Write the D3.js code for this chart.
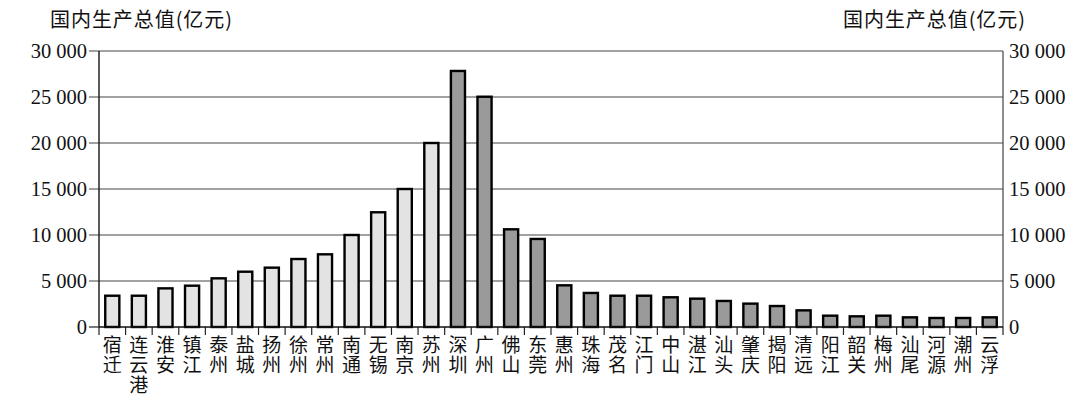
<!DOCTYPE html>
<html><head><meta charset="utf-8">
<script src="https://cdn.jsdelivr.net/npm/d3@7"></script>
<style>
body{margin:0;background:#fff;}
svg{display:block;}
</style></head>
<body>
<svg id="c" width="1080" height="404"></svg>
<script>
const cities = ["宿迁","连云港","淮安","镇江","泰州","盐城","扬州","徐州","常州","南通","无锡","南京","苏州",
"深圳","广州","佛山","东莞","惠州","珠海","茂名","江门","中山","湛江","汕头","肇庆","揭阳","清远","阳江","韶关","梅州","汕尾","河源","潮州","云浮"];
const gdp = [3400,3400,4200,4490,5290,6010,6450,7390,7900,10000,12470,15000,20000,
27830,25030,10620,9570,4530,3700,3400,3400,3230,3080,2830,2540,2280,1810,1230,1160,1230,1050,980,980,1050];
const province = ["江苏","江苏","江苏","江苏","江苏","江苏","江苏","江苏","江苏","江苏","江苏","江苏","江苏",
"广东","广东","广东","广东","广东","广东","广东","广东","广东","广东","广东","广东","广东","广东","广东","广东","广东","广东","广东","广东","广东"];
const yTicks = [0,5000,10000,15000,20000,25000,30000];
const yTitle = "国内生产总值(亿元)";

const fill = {"江苏":"#e3e3e3","广东":"#9a9a9a"};
const svg = d3.select("#c");
const L=99, R=1003, T=51, B=327;
const x = d3.scaleBand().domain(cities).range([L,R]).paddingInner(0.47).paddingOuter(0.235);
const y = d3.scaleLinear().domain([0,30000]).range([B,T]);
const fmt2 = v => { if(v===0) return "0"; const s=String(v); return s.slice(0,s.length-3)+" "+s.slice(-3); };

// gridlines
svg.append("g").selectAll("line").data(yTicks.filter(d=>d>0)).join("line")
  .attr("x1",L-10).attr("x2",R).attr("y1",d=>y(d)).attr("y2",d=>y(d))
  .attr("stroke","#444").attr("stroke-width",1.2);
svg.append("line").attr("x1",L-10).attr("x2",L).attr("y1",B).attr("y2",B).attr("stroke","#222").attr("stroke-width",1.2);

// left labels
svg.append("g").selectAll("text").data(yTicks).join("text")
  .attr("x",L-12).attr("y",d=>y(d)).attr("dy","0.35em").attr("text-anchor","end")
  .attr("font-family","Liberation Serif").attr("font-size",20.5).attr("fill","#111").text(fmt2);
// right labels
svg.append("g").selectAll("text").data(yTicks).join("text")
  .attr("x",R+6).attr("y",d=>y(d)).attr("dy","0.35em").attr("text-anchor","start")
  .attr("font-family","Liberation Serif").attr("font-size",20.5).attr("fill","#111").text(fmt2);

// axes lines
svg.append("line").attr("x1",L).attr("x2",L).attr("y1",T).attr("y2",B).attr("stroke","#222").attr("stroke-width",1.5);
svg.append("line").attr("x1",R).attr("x2",R).attr("y1",T).attr("y2",B).attr("stroke","#444").attr("stroke-width",1.2);

// x ticks at band boundaries
const step = x.step();
svg.append("g").selectAll("line").data(cities).join("line")
  .attr("x1",d=>x(d)+x.bandwidth()/2-step/2).attr("x2",d=>x(d)+x.bandwidth()/2-step/2)
  .attr("y1",B).attr("y2",B+8).attr("stroke","#222").attr("stroke-width",1.2);
svg.append("line").attr("x1",R).attr("x2",R).attr("y1",B).attr("y2",B+8).attr("stroke","#222").attr("stroke-width",1.2);

// bars
svg.append("g").selectAll("rect").data(cities).join("rect")
  .attr("x",d=>x(d)).attr("width",x.bandwidth())
  .attr("y",(d,i)=>y(gdp[i])).attr("height",(d,i)=>B-y(gdp[i]))
  .attr("fill",(d,i)=>fill[province[i]]).attr("stroke","#000").attr("stroke-width",2.4);

// baseline
svg.append("line").attr("x1",L).attr("x2",R).attr("y1",B).attr("y2",B).attr("stroke","#111").attr("stroke-width",1.5);

// category labels vertical (one character per line)
const lab = svg.append("g");
cities.forEach(c=>{
  const t = lab.append("text").attr("text-anchor","middle")
    .attr("font-family","Noto Sans CJK SC").attr("font-size",19).attr("fill","#111");
  Array.from(c).forEach((ch,j)=>{
    t.append("tspan").attr("x",x(c)+x.bandwidth()/2).attr("y",352+j*20).text(ch);
  });
});

// titles
svg.append("text").attr("x",50).attr("y",27).attr("font-family","Noto Sans CJK SC").attr("font-size",20)
  .attr("textLength",182).attr("lengthAdjust","spacing").attr("fill","#111").text(yTitle);
svg.append("text").attr("x",843).attr("y",27).attr("font-family","Noto Sans CJK SC").attr("font-size",20)
  .attr("textLength",182).attr("lengthAdjust","spacing").attr("fill","#111").text(yTitle);
</script>
</body></html>
